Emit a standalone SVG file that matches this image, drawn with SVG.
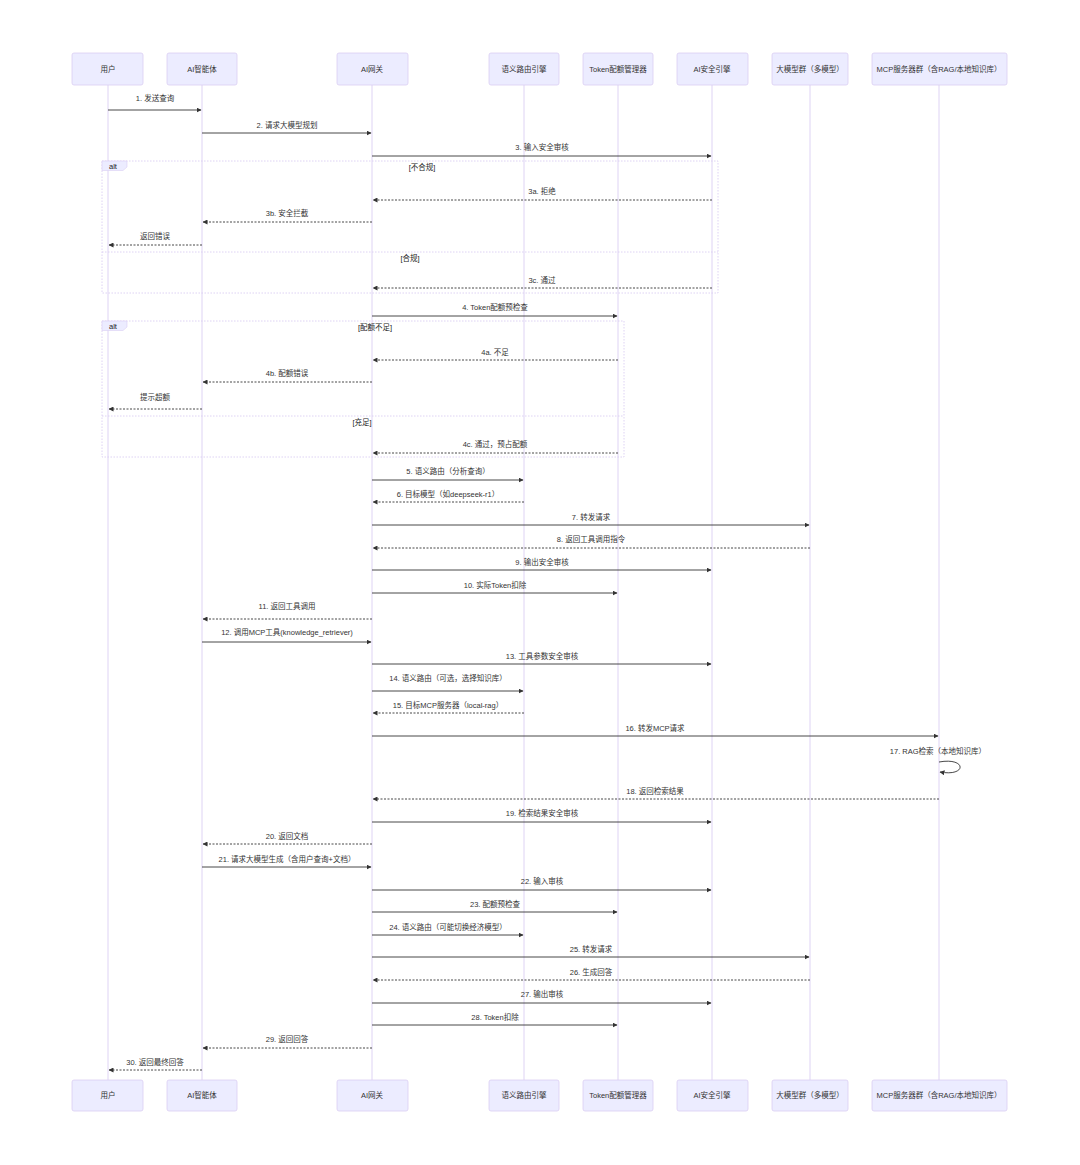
<svg xmlns="http://www.w3.org/2000/svg" width="1080" height="1165" viewBox="0 0 1080 1165">
<style>
text{font-family:"Liberation Sans","Noto Sans CJK SC",sans-serif;font-size:7.5px;fill:#333;text-anchor:middle}
.box{fill:#ECECFF;stroke:#dacef3;stroke-width:0.8}
.life{stroke:#dacef3;stroke-width:0.9}
.msg{stroke:#333;stroke-width:0.9;fill:none;marker-end:url(#ah)}
.ret{stroke-dasharray:2,1.5}
.frame{fill:none;stroke:#dacef3;stroke-width:0.9;stroke-dasharray:1.5,1.5}
.lbl{fill:#ECECFF;stroke:#dacef3;stroke-width:0.6}
.cond{fill:#222}
</style>
<defs>
<marker id="ah" viewBox="0 0 10 10" refX="9" refY="5" markerWidth="5" markerHeight="5" markerUnits="userSpaceOnUse" orient="auto"><path d="M0,0 L10,5 L0,10 z" fill="#333"/></marker>
</defs>
<rect width="1080" height="1165" fill="#fff"/>
<g id="actor-user"><line class="life" x1="108" y1="85" x2="108" y2="1080"/><rect class="box" x="72" y="53" width="71" height="32" rx="2"/><text x="108" y="72">用户</text><rect class="box" x="72" y="1080" width="71" height="31" rx="2"/><text x="108" y="1098">用户</text></g>
<g id="actor-agent"><line class="life" x1="202" y1="85" x2="202" y2="1080"/><rect class="box" x="167" y="53" width="70" height="32" rx="2"/><text x="202" y="72">AI智能体</text><rect class="box" x="167" y="1080" width="70" height="31" rx="2"/><text x="202" y="1098">AI智能体</text></g>
<g id="actor-gateway"><line class="life" x1="372" y1="85" x2="372" y2="1080"/><rect class="box" x="337" y="53" width="71" height="32" rx="2"/><text x="372" y="72">AI网关</text><rect class="box" x="337" y="1080" width="71" height="31" rx="2"/><text x="372" y="1098">AI网关</text></g>
<g id="actor-router"><line class="life" x1="524" y1="85" x2="524" y2="1080"/><rect class="box" x="489" y="53" width="70" height="32" rx="2"/><text x="524" y="72">语义路由引擎</text><rect class="box" x="489" y="1080" width="70" height="31" rx="2"/><text x="524" y="1098">语义路由引擎</text></g>
<g id="actor-token"><line class="life" x1="618" y1="85" x2="618" y2="1080"/><rect class="box" x="583" y="53" width="70" height="32" rx="2"/><text x="618" y="72">Token配额管理器</text><rect class="box" x="583" y="1080" width="70" height="31" rx="2"/><text x="618" y="1098">Token配额管理器</text></g>
<g id="actor-security"><line class="life" x1="712" y1="85" x2="712" y2="1080"/><rect class="box" x="677" y="53" width="71" height="32" rx="2"/><text x="712" y="72">AI安全引擎</text><rect class="box" x="677" y="1080" width="71" height="31" rx="2"/><text x="712" y="1098">AI安全引擎</text></g>
<g id="actor-llm"><line class="life" x1="810" y1="85" x2="810" y2="1080"/><rect class="box" x="772" y="53" width="76" height="32" rx="2"/><text x="810" y="72">大模型群（多模型）</text><rect class="box" x="772" y="1080" width="76" height="31" rx="2"/><text x="810" y="1098">大模型群（多模型）</text></g>
<g id="actor-mcp"><line class="life" x1="939" y1="85" x2="939" y2="1080"/><rect class="box" x="872" y="53" width="135" height="32" rx="2"/><text x="939" y="72">MCP服务器群（含RAG/本地知识库）</text><rect class="box" x="872" y="1080" width="135" height="31" rx="2"/><text x="939" y="1098">MCP服务器群（含RAG/本地知识库）</text></g>
<g id="alt-security">
<rect class="frame" x="102" y="161" width="616" height="132"/>
<line class="frame" x1="102" y1="252" x2="718" y2="252"/>
<polygon class="lbl" points="102,161 127,161 127,167 123,170.5 102,170.5"/>
<text x="113" y="168.5" class="cond">alt</text>
<text x="422" y="170" class="cond">[不合规]</text>
<text x="410" y="261" class="cond">[合规]</text>
</g>
<g id="alt-quota">
<rect class="frame" x="102" y="321" width="522" height="136"/>
<line class="frame" x1="102" y1="416" x2="624" y2="416"/>
<polygon class="lbl" points="102,321 127,321 127,327 123,330.5 102,330.5"/>
<text x="113" y="328.5" class="cond">alt</text>
<text x="375" y="330" class="cond">[配额不足]</text>
<text x="362" y="425" class="cond">[充足]</text>
</g>
<g id="connectors">
<line class="msg" x1="108" y1="110" x2="201" y2="110"/><text x="155" y="101">1. 发送查询</text>
<line class="msg" x1="202" y1="133" x2="371" y2="133"/><text x="287" y="128">2. 请求大模型规划</text>
<line class="msg" x1="372" y1="156" x2="711" y2="156"/><text x="542" y="150">3. 输入安全审核</text>
<line class="msg ret" x1="712" y1="200" x2="373" y2="200"/><text x="542" y="194">3a. 拒绝</text>
<line class="msg ret" x1="372" y1="222" x2="203" y2="222"/><text x="287" y="216">3b. 安全拦截</text>
<line class="msg ret" x1="202" y1="245" x2="109" y2="245"/><text x="155" y="239">返回错误</text>
<line class="msg ret" x1="712" y1="288" x2="373" y2="288"/><text x="542" y="283">3c. 通过</text>
<line class="msg" x1="372" y1="316" x2="617" y2="316"/><text x="495" y="310">4. Token配额预检查</text>
<line class="msg ret" x1="618" y1="360" x2="373" y2="360"/><text x="495" y="355">4a. 不足</text>
<line class="msg ret" x1="372" y1="382" x2="203" y2="382"/><text x="287" y="376">4b. 配额错误</text>
<line class="msg ret" x1="202" y1="409" x2="109" y2="409"/><text x="155" y="400">提示超额</text>
<line class="msg ret" x1="618" y1="453" x2="373" y2="453"/><text x="495" y="447">4c. 通过，预占配额</text>
<line class="msg" x1="372" y1="480" x2="523" y2="480"/><text x="448" y="474">5. 语义路由（分析查询）</text>
<line class="msg ret" x1="524" y1="502" x2="373" y2="502"/><text x="448" y="497">6. 目标模型（如deepseek-r1）</text>
<line class="msg" x1="372" y1="525" x2="809" y2="525"/><text x="591" y="520">7. 转发请求</text>
<line class="msg ret" x1="810" y1="548" x2="373" y2="548"/><text x="591" y="542">8. 返回工具调用指令</text>
<line class="msg" x1="372" y1="570" x2="711" y2="570"/><text x="542" y="565">9. 输出安全审核</text>
<line class="msg" x1="372" y1="593" x2="617" y2="593"/><text x="495" y="588">10. 实际Token扣除</text>
<line class="msg ret" x1="372" y1="619" x2="203" y2="619"/><text x="287" y="609">11. 返回工具调用</text>
<line class="msg" x1="202" y1="642" x2="371" y2="642"/><text x="287" y="635">12. 调用MCP工具(knowledge_retriever)</text>
<line class="msg" x1="372" y1="664" x2="711" y2="664"/><text x="542" y="659">13. 工具参数安全审核</text>
<line class="msg" x1="372" y1="691" x2="523" y2="691"/><text x="448" y="681">14. 语义路由（可选，选择知识库）</text>
<line class="msg ret" x1="524" y1="713" x2="373" y2="713"/><text x="448" y="708">15. 目标MCP服务器（local-rag）</text>
<line class="msg" x1="372" y1="736" x2="938" y2="736"/><text x="655" y="731">16. 转发MCP请求</text>
<path class="msg" d="M939,762 C967,757 967,777 940,772"/><text x="938" y="754">17. RAG检索（本地知识库）</text>
<line class="msg ret" x1="939" y1="799" x2="373" y2="799"/><text x="655" y="794">18. 返回检索结果</text>
<line class="msg" x1="372" y1="822" x2="711" y2="822"/><text x="542" y="816">19. 检索结果安全审核</text>
<line class="msg ret" x1="372" y1="844" x2="203" y2="844"/><text x="287" y="839">20. 返回文档</text>
<line class="msg" x1="202" y1="867" x2="371" y2="867"/><text x="287" y="862">21. 请求大模型生成（含用户查询+文档）</text>
<line class="msg" x1="372" y1="890" x2="711" y2="890"/><text x="542" y="884">22. 输入审核</text>
<line class="msg" x1="372" y1="912" x2="617" y2="912"/><text x="495" y="907">23. 配额预检查</text>
<line class="msg" x1="372" y1="935" x2="523" y2="935"/><text x="448" y="930">24. 语义路由（可能切换经济模型）</text>
<line class="msg" x1="372" y1="957" x2="809" y2="957"/><text x="591" y="952">25. 转发请求</text>
<line class="msg ret" x1="810" y1="980" x2="373" y2="980"/><text x="591" y="975">26. 生成回答</text>
<line class="msg" x1="372" y1="1003" x2="711" y2="1003"/><text x="542" y="997">27. 输出审核</text>
<line class="msg" x1="372" y1="1025" x2="617" y2="1025"/><text x="495" y="1020">28. Token扣除</text>
<line class="msg ret" x1="372" y1="1048" x2="203" y2="1048"/><text x="287" y="1042">29. 返回回答</text>
<line class="msg ret" x1="202" y1="1070" x2="109" y2="1070"/><text x="155" y="1065">30. 返回最终回答</text>
</g>
</svg>
